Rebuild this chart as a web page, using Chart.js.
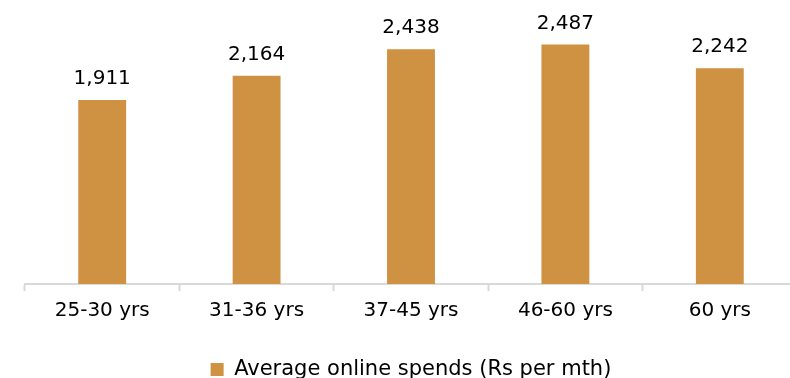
<!DOCTYPE html>
<html>
<head>
<meta charset="utf-8">
<script src="https://cdn.jsdelivr.net/npm/chart.js@4.4.1/dist/chart.umd.min.js"></script>
<style>
  html, body { margin: 0; padding: 0; background: #fff; overflow: hidden; }
  #wrap { position: relative; width: 797px; height: 390px; }
</style>
</head>
<body>
<div id="wrap"><canvas id="spends"></canvas></div>
<script>
const ageGroups = ['25-30 yrs', '31-36 yrs', '37-45 yrs', '46-60 yrs', '60 yrs'];
const avgSpends = [1911, 2164, 2438, 2487, 2242];
const seriesName = 'Average online spends (Rs per mth)';

const barColor = '#CF9142';

// value labels above each bar
const valueLabels = {
  id: 'valueLabels',
  afterDatasetsDraw(chart) {
    const { ctx } = chart;
    const meta = chart.getDatasetMeta(0);
    ctx.save();
    ctx.font = '20px "DejaVu Sans"';
    ctx.fillStyle = '#000';
    ctx.textAlign = 'center';
    ctx.textBaseline = 'bottom';
    meta.data.forEach((bar, i) => {
      const v = chart.data.datasets[0].data[i];
      ctx.fillText(v.toLocaleString('en-US'), bar.x, bar.y - 11);
    });
    ctx.restore();
  },
};

new Chart(document.getElementById('spends'), {
  type: 'bar',
  data: {
    labels: ageGroups,
    datasets: [
      {
        label: seriesName,
        data: avgSpends,
        backgroundColor: barColor,
        barPercentage: 0.62,
        categoryPercentage: 0.5,
      },
    ],
  },
  options: {
    responsive: true,
    maintainAspectRatio: false,
    animation: false,
    layout: { padding: { left: 25, top: 0, right: 0, bottom: 0 } },
    scales: {
      y: { display: false, min: 0, max: 2950 },
      x: {
        grid: {
          drawOnChartArea: false,
          drawTicks: true,
          tickLength: 7,
          tickColor: '#d9d9d9',
          tickWidth: 2,
        },
        border: { color: '#d9d9d9', width: 2 },
        ticks: {
          color: '#000',
          font: { family: '"DejaVu Sans"', size: 20 },
          padding: 8,
        },
      },
    },
    plugins: {
      tooltip: { enabled: false },
      legend: {
        position: 'bottom',
        fullSize: false,
        labels: {
          color: '#000',
          font: { family: '"DejaVu Sans"', size: 21 },
          boxWidth: 13,
          boxHeight: 13,
          padding: 28,
        },
      },
    },
  },
  plugins: [valueLabels],
});
</script>
</body>
</html>
